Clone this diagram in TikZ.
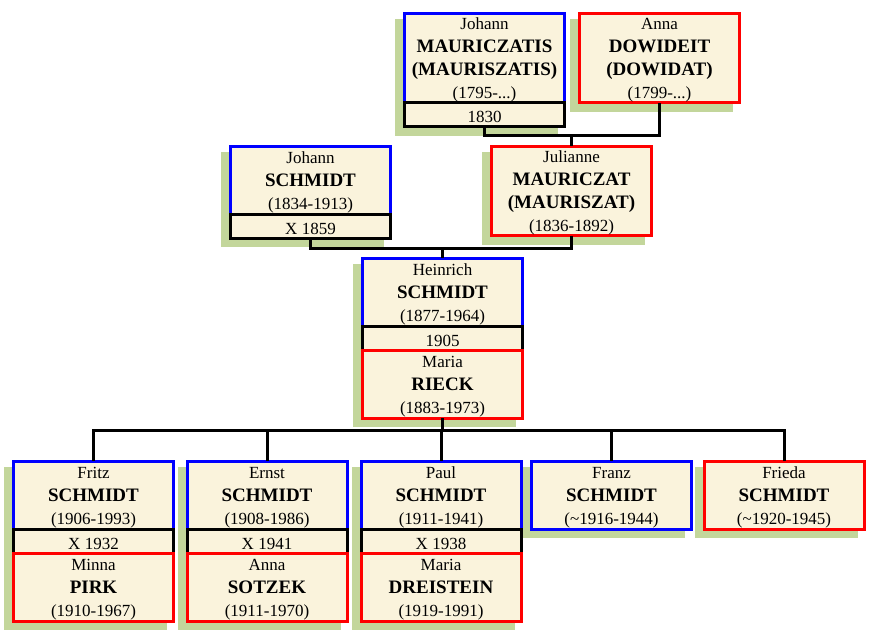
\documentclass[tikz,border=0pt]{standalone}
\usepackage{fontspec}
\setmainfont{Liberation Serif}
\usetikzlibrary{positioning,backgrounds}

\definecolor{cream}{RGB}{250,243,220}
\definecolor{leaf}{RGB}{195,214,155}
\definecolor{manblue}{RGB}{0,0,255}
\definecolor{womanred}{RGB}{255,0,0}

\newcommand{\lastname}[1]{{\fontsize{19}{23}\selectfont\bfseries #1}}

\tikzset{
card/.style={line width=3pt, fill=cream, minimum width=160pt,
  inner sep=0pt, outer sep=0pt, font=\fontsize{17}{23}\selectfont},
person/.style={card, draw, minimum height=68pt, align=center,
  text height=58.5pt, text depth=0pt},
tall/.style={minimum height=89.5pt, text height=81.5pt},
man/.style={person, draw=manblue},
woman/.style={person, draw=womanred},
wedding/.style={card, draw=black, minimum height=24pt,
  text height=16pt, text depth=0pt},
link/.style={line width=3pt},
greenshadow/.style={fill=leaf}
}

\begin{document}
\begin{tikzpicture}[x=1pt,y=-1pt]
\useasboundingbox (0,0) rectangle (880,635);

% Mauriczatis - Dowideit
\node[man,tall,anchor=north] (johannm) at (484.5,13)
{Johann\\\lastname{MAURICZATIS}\\\lastname{(MAURISZATIS)}\\(1795-...)};
\node[wedding,below=0pt of johannm] (johannmx) {1830};
\node[woman,tall,anchor=north] (annad) at (659.5,13)
{Anna\\\lastname{DOWIDEIT}\\\lastname{(DOWIDAT)}\\(1799-...)};

% Schmidt - Mauriczat
\node[man,anchor=north] (johanns) at (310.5,146)
{Johann\\\lastname{SCHMIDT}\\(1834-1913)};
\node[wedding,below=0pt of johanns] (johannsx) {X 1859};
\node[woman,tall,anchor=north] (julianne) at (571.5,146)
{Julianne\\\lastname{MAURICZAT}\\\lastname{(MAURISZAT)}\\(1836-1892)};

% Heinrich - Maria
\node[man,anchor=north] (heinrich) at (442.5,258)
{Heinrich\\\lastname{SCHMIDT}\\(1877-1964)};
\node[wedding,below=0pt of heinrich] (heinrichx) {1905};
\node[woman,below=0pt of heinrichx] (mariar)
{Maria\\\lastname{RIECK}\\(1883-1973)};

% Kinder
\node[man,anchor=north] (fritz) at (93.5,461)
{Fritz\\\lastname{SCHMIDT}\\(1906-1993)};
\node[wedding,below=0pt of fritz] (fritzx) {X 1932};
\node[woman,below=0pt of fritzx] (minna)
{Minna\\\lastname{PIRK}\\(1910-1967)};

\node[man,anchor=north] (ernst) at (267,461)
{Ernst\\\lastname{SCHMIDT}\\(1908-1986)};
\node[wedding,below=0pt of ernst] (ernstx) {X 1941};
\node[woman,below=0pt of ernstx] (annas)
{Anna\\\lastname{SOTZEK}\\(1911-1970)};

\node[man,anchor=north] (paul) at (441,461)
{Paul\\\lastname{SCHMIDT}\\(1911-1941)};
\node[wedding,below=0pt of paul] (paulx) {X 1938};
\node[woman,below=0pt of paulx] (mariad)
{Maria\\\lastname{DREISTEIN}\\(1919-1991)};

\node[man,anchor=north] (franz) at (611.5,461)
{Franz\\\lastname{SCHMIDT}\\(\textasciitilde1916-1944)};

\node[woman,anchor=north] (frieda) at (784,461)
{Frieda\\\lastname{SCHMIDT}\\(\textasciitilde1920-1945)};

% Schatten
\begin{scope}[on background layer]
\foreach \a/\b in {johannm/johannmx,annad/annad,johanns/johannsx,
  julianne/julianne,heinrich/mariar,fritz/minna,ernst/annas,
  paul/mariad,franz/franz,frieda/frieda}
{
\fill[greenshadow] ([shift={(-9.5,6)}]\a.north west)
  rectangle ([shift={(-6.5,9)}]\b.south east);
}
\end{scope}

% Linien
\coordinate (top) at (571.5,135);
\draw[link] (johannmx.south) |- (top) -| (annad.south);
\draw[link] (top) -- (julianne.north);

\coordinate (mid) at (442.5,248);
\draw[link] (johannsx.south) |- (mid) -| (julianne.south);
\draw[link] (mid) -- (heinrich.north);

\coordinate (kids) at (0,430);
\draw[link] (mariar.south) -- (mariar.south |- kids);
\draw[link] (fritz.north) |- (frieda.north |- kids) -- (frieda.north);
\foreach \c in {ernst,paul,franz}
{
\draw[link] (\c.north |- kids) -- (\c.north);
}

\end{tikzpicture}
\end{document}
